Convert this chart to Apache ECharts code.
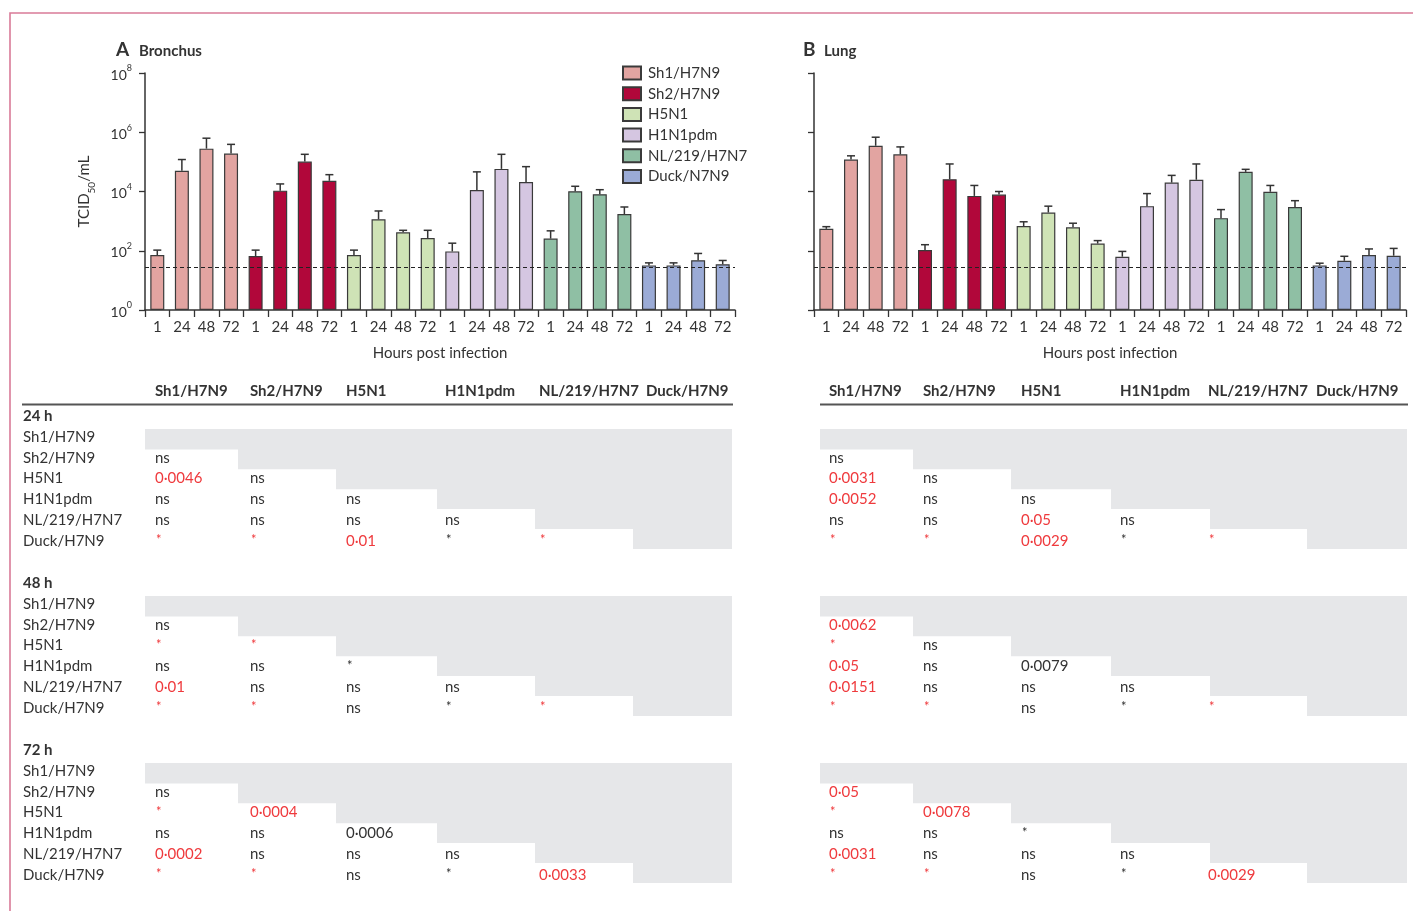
<!DOCTYPE html>
<html>
<head>
<meta charset="utf-8">
<script src="https://cdn.jsdelivr.net/npm/echarts@6/dist/echarts.min.js"></script>
<style>
html,body{margin:0;padding:0;background:#fff;}
#c{width:1413px;height:911px;}
</style>
</head>
<body>
<div id="c"></div>
<script>
// Virus strains (legend names) and sampling times
const viruses = ['Sh1/H7N9', 'Sh2/H7N9', 'H5N1', 'H1N1pdm', 'NL/219/H7N7', 'Duck/N7N9'];
const hours = ['1', '24', '48', '72'];
const virusColors = ['#e2a4a1', '#b1073a', '#cfe3b6', '#d5c6e1', '#8fbfa4', '#9babd6'];

// Mean titres (TCID50/mL), one row per virus, columns = 1, 24, 48, 72 h
const bronchusMean = [
  [72, 5.0e4, 2.8e5, 1.9e5],
  [66, 1.07e4, 1.02e5, 2.3e4],
  [72, 1150, 420, 270],
  [95, 1.12e4, 5.8e4, 2.1e4],
  [257, 1.02e4, 8.1e3, 1.74e3],
  [32, 32, 48, 35]
];
// Mean + SEM (top of error bar)
const bronchusUpper = [
  [105, 1.2e5, 6.3e5, 3.9e5],
  [105, 1.8e4, 1.8e5, 3.7e4],
  [105, 2200, 490, 490],
  [180, 4.6e4, 1.8e5, 6.9e4],
  [470, 1.5e4, 1.15e4, 3.0e3],
  [39, 39, 81, 47]
];
const lungMean = [
  [550, 1.2e5, 3.5e5, 1.8e5],
  [105, 2.6e4, 7.1e3, 7.9e3],
  [680, 1.95e3, 620, 175],
  [63, 3.2e3, 2.0e4, 2.5e4],
  [1.26e3, 4.6e4, 9.8e3, 3.0e3],
  [32, 46, 72, 68]
];
const lungUpper = [
  [650, 1.6e5, 6.8e5, 3.2e5],
  [160, 8.5e4, 1.6e4, 1.0e4],
  [950, 3.2e3, 850, 220],
  [95, 8.5e3, 3.5e4, 8.5e4],
  [2.45e3, 5.6e4, 1.6e4, 4.9e3],
  [38, 65, 115, 120]
];
// Detection limit (dashed line)
const detectionLimit = 28;

// Pairwise comparison tables; a leading "+" marks a significant (red) entry
const tableLabels = ['Sh1/H7N9', 'Sh2/H7N9', 'H5N1', 'H1N1pdm', 'NL/219/H7N7', 'Duck/H7N9'];
const timeTitles = ['24 h', '48 h', '72 h'];
const bronchusP24 = [[], ['ns'], ['+0·0046', 'ns'], ['ns', 'ns', 'ns'], ['ns', 'ns', 'ns', 'ns'], ['+*', '+*', '+0·01', '*', '+*']];
const bronchusP48 = [[], ['ns'], ['+*', '+*'], ['ns', 'ns', '*'], ['+0·01', 'ns', 'ns', 'ns'], ['+*', '+*', 'ns', '*', '+*']];
const bronchusP72 = [[], ['ns'], ['+*', '+0·0004'], ['ns', 'ns', '0·0006'], ['+0·0002', 'ns', 'ns', 'ns'], ['+*', '+*', 'ns', '*', '+0·0033']];
const lungP24 = [[], ['ns'], ['+0·0031', 'ns'], ['+0·0052', 'ns', 'ns'], ['ns', 'ns', '+0·05', 'ns'], ['+*', '+*', '+0·0029', '*', '+*']];
const lungP48 = [[], ['+0·0062'], ['+*', 'ns'], ['+0·05', 'ns', '0·0079'], ['+0·0151', 'ns', 'ns', 'ns'], ['+*', '+*', 'ns', '*', '+*']];
const lungP72 = [[], ['+0·05'], ['+*', '+0·0078'], ['ns', 'ns', '*'], ['+0·0031', 'ns', 'ns', 'ns'], ['+*', '+*', 'ns', '*', '+0·0029']];

const FONT = 'Lato, "Noto Sans", sans-serif';
const INK = '#333';
const RED = '#ef3a3d';

const categories = [];
viruses.forEach(() => hours.forEach(h => categories.push(h)));

function barSeries(means, g) {
  return viruses.map((name, v) => {
    const data = categories.map(() => null);
    means[v].forEach((val, t) => { data[v * 4 + t] = val; });
    return {
      type: 'bar', name, xAxisIndex: g, yAxisIndex: g,
      barWidth: 14, barGap: '-100%',
      itemStyle: { color: virusColors[v], borderColor: '#3a3a3a', borderWidth: 1.2 },
      data, z: 2
    };
  });
}

function errorSeries(means, uppers, g) {
  const data = [];
  means.forEach((row, v) => row.forEach((m, t) => data.push([v * 4 + t, m, uppers[v][t]])));
  return {
    type: 'custom', xAxisIndex: g, yAxisIndex: g, z: 3, silent: true,
    encode: { x: 0, y: [1, 2] },
    data,
    renderItem(params, api) {
      const x = api.value(0);
      const p0 = api.coord([x, api.value(1)]);
      const p1 = api.coord([x, api.value(2)]);
      const st = { stroke: '#333', lineWidth: 1.5 };
      return {
        type: 'group', children: [
          { type: 'line', shape: { x1: p0[0], y1: p0[1], x2: p1[0], y2: p1[1] }, style: st },
          { type: 'line', shape: { x1: p1[0] - 4, y1: p1[1], x2: p1[0] + 4, y2: p1[1] }, style: st }
        ]
      };
    },
    markLine: {
      silent: true, symbol: 'none', label: { show: false },
      lineStyle: { type: [4, 3], color: '#222', width: 1.2 },
      data: [{ yAxis: detectionLimit }]
    }
  };
}

function xAxis(g) {
  return {
    type: 'category', gridIndex: g, data: categories,
    axisLine: { lineStyle: { color: INK, width: 1.5 } },
    axisTick: { show: true, length: 7, interval: 0, lineStyle: { color: INK, width: 1.3 } },
    axisLabel: { interval: 0, fontSize: 15, color: INK, fontFamily: FONT, margin: 10 },
    name: 'Hours post infection', nameLocation: 'middle', nameGap: 36,
    nameTextStyle: { fontSize: 15, color: INK, fontFamily: FONT }
  };
}

function yAxis(g, withLabels) {
  const ax = {
    type: 'log', gridIndex: g, logBase: 10, min: 1, max: 1e8, interval: 2,
    splitLine: { show: false },
    axisLine: { show: true, lineStyle: { color: INK, width: 1.5 } },
    axisTick: { show: true, length: 6, lineStyle: { color: INK, width: 1.3 } },
    axisLabel: {
      show: withLabels, margin: 13,
      formatter: v => '{b|10}{s|' + Math.round(Math.log10(v)) + '}',
      rich: {
        b: { fontSize: 14, color: INK, fontFamily: FONT, lineHeight: 18, verticalAlign: 'bottom' },
        s: { fontSize: 9, color: INK, fontFamily: FONT, lineHeight: 18, verticalAlign: 'top', padding: [0, 0, 6, 0] }
      }
    }
  };
  if (withLabels) {
    Object.assign(ax, {
      name: '{t|TCID}{u|50}{t|/mL}', nameLocation: 'middle', nameGap: 48, nameRotate: 90,
      nameTextStyle: {
        rich: {
          t: { fontSize: 15, color: INK, fontFamily: FONT, lineHeight: 20, verticalAlign: 'top' },
          u: { fontSize: 10, color: INK, fontFamily: FONT, lineHeight: 20, verticalAlign: 'bottom', padding: [6, 0, 0, 0] }
        }
      }
    });
  }
  return ax;
}

// ---- table graphics ----
const graphics = [];
function txt(x, y, text, opts) {
  graphics.push({
    type: 'text', x, y, silent: true,
    style: Object.assign({ text, fill: INK, fontSize: 15, fontFamily: FONT, verticalAlign: 'middle', align: 'left' }, opts || {})
  });
}
function rect(x, y, w, h, fill) {
  graphics.push({ type: 'rect', silent: true, shape: { x, y, width: w, height: h }, style: { fill } });
}

const sectionTops = [429, 596, 763];
const grayH = 19.9;
const textStep = 20.8;
function drawTable(sets, grayStarts, grayEnd, textXs, ruleX0, withLabels) {
  // column headers and rule
  tableLabels.forEach((lab, j) => txt(textXs[j], 391, lab, { fontWeight: 'bold' }));
  graphics.push({ type: 'line', silent: true, shape: { x1: ruleX0, y1: 404.5, x2: grayEnd + 1, y2: 404.5 }, style: { stroke: '#555', lineWidth: 2 } });
  sets.forEach((rows, s) => {
    const top = sectionTops[s];
    if (withLabels) txt(23, top - 13, timeTitles[s], { fontWeight: 'bold' });
    rows.forEach((cells, i) => {
      const y0 = top + i * grayH;
      rect(grayStarts[i], y0, grayEnd - grayStarts[i], grayH + 0.5, '#e6e7e9');
      const cy = top + 8 + i * textStep;
      if (withLabels) txt(23, cy, tableLabels[i]);
      cells.forEach((c, j) => {
        const red = c.charAt(0) === '+';
        const t = red ? c.slice(1) : c;
        if (t === '*') txt(textXs[j] + 1, cy - 1, t, { fill: red ? RED : INK, fontSize: 13 });
        else txt(textXs[j], cy, t, { fill: red ? RED : INK });
      });
    });
  });
}
drawTable([bronchusP24, bronchusP48, bronchusP72],
  [145, 238, 336, 437, 535, 633], 732, [155, 250, 346, 445, 539, 646], 22, true);
drawTable([lungP24, lungP48, lungP72],
  [820, 913, 1011, 1111, 1210, 1307], 1407, [829, 923, 1021, 1120, 1208, 1316], 820, false);

// panel titles
txt(116, 50, 'A', { fontWeight: 'bold', fontSize: 19 });
txt(139, 51, 'Bronchus', { fontWeight: 'bold', fontSize: 15 });
txt(803, 50, 'B', { fontWeight: 'bold', fontSize: 19 });
txt(824, 51, 'Lung', { fontWeight: 'bold', fontSize: 15 });

// frame
graphics.push({ type: 'rect', silent: true, shape: { x: 10, y: 13, width: 1440, height: 940 }, style: { fill: 'none', stroke: '#d97b98', lineWidth: 1.6 } });

const chart = echarts.init(document.getElementById('c'), null, { renderer: 'canvas' });
chart.setOption({
  animation: false,
  backgroundColor: '#fff',
  textStyle: { fontFamily: FONT },
  grid: [
    { left: 145, top: 73, width: 590, height: 237 },
    { left: 814, top: 73, width: 592, height: 237 }
  ],
  legend: {
    data: viruses, orient: 'vertical', left: 622, top: 65.5, padding: 0,
    itemWidth: 18, itemHeight: 13, itemGap: 5.7, icon: 'rect',
    textStyle: { fontSize: 15, lineHeight: 13, color: INK, fontFamily: FONT, padding: [0, 0, 0, 2] },
    selectedMode: false
  },
  xAxis: [xAxis(0), xAxis(1)],
  yAxis: [yAxis(0, true), yAxis(1, false)],
  series: [
    ...barSeries(bronchusMean, 0), errorSeries(bronchusMean, bronchusUpper, 0),
    ...barSeries(lungMean, 1), errorSeries(lungMean, lungUpper, 1)
  ],
  graphic: graphics
});
</script>
</body>
</html>
